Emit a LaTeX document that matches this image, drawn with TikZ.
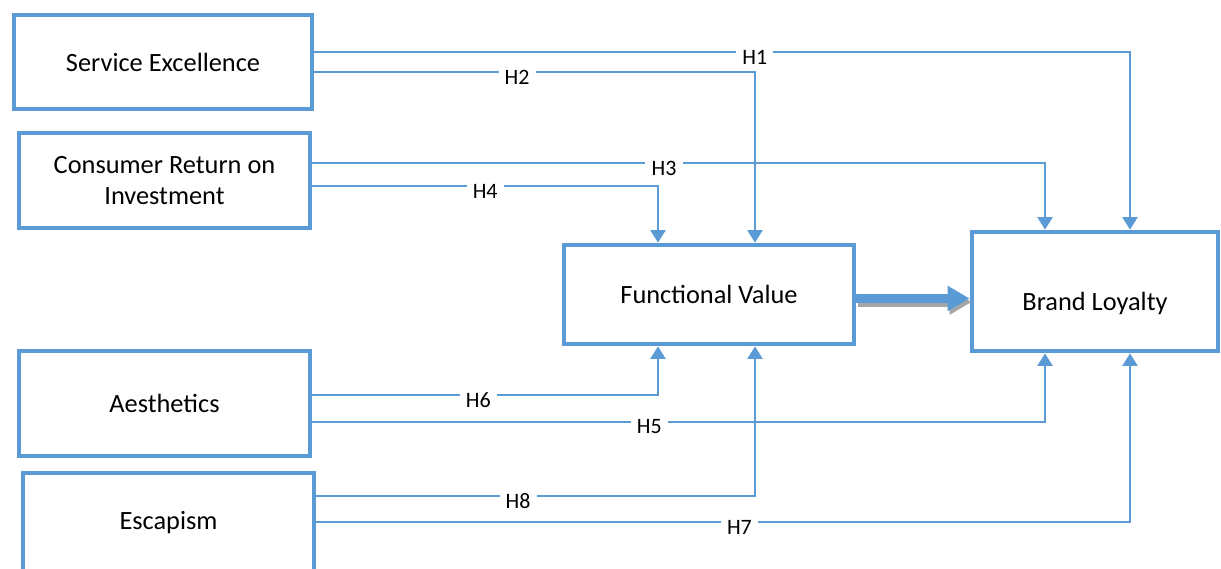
\documentclass[tikz,border=0pt]{standalone}
\usepackage{fontspec}
\setmainfont{Carlito}
\usetikzlibrary{arrows.meta,calc}
\definecolor{officeblue}{RGB}{91,155,213}

\begin{document}
\begin{tikzpicture}[
  box/.style={draw=officeblue,line width=2.7pt,fill=white,align=center,
    font=\fontsize{15}{18}\selectfont},
  link/.style={draw=officeblue,line width=1.2pt,-{Triangle[width=0.3cm,length=0.25cm]}},
  hyp/.style={fill=white,inner xsep=3.5pt,inner ysep=1pt,yshift=-0.1cm,
    font=\fontsize{12.5}{14}\selectfont},
  bigarrow/.style={line width=0.18cm,-{Triangle[width=0.48cm,length=0.44cm]}}
  ]
    \useasboundingbox (0,0) rectangle (24.42,-11.36);

    \node[box,minimum width=5.96cm,minimum height=1.88cm] (se) at (3.26,-1.24) {Service Excellence};
    \node[box,minimum width=5.82cm,minimum height=1.90cm] (croi) at (3.29,-3.61) {Consumer Return on\\Investment};
    \node[box,minimum width=5.82cm,minimum height=2.10cm] (ae) at (3.29,-8.07) {Aesthetics};
    \node[box,minimum width=5.82cm,minimum height=2.00cm] (es) at (3.37,-10.46) {Escapism};
    \node[box,minimum width=5.80cm,minimum height=1.98cm] (fv) at (14.18,-5.89) {Functional Value};
    \node[box,minimum width=4.92cm,minimum height=2.38cm,text height=0.84cm,text depth=0.1cm]
      (bl) at (21.90,-5.83) {Brand Loyalty};

    % fv -> bl, with its shadow
    \draw[bigarrow,gray!70,transform canvas={xshift=0.04cm,yshift=-0.07cm}]
      ([yshift=-0.08cm]fv.east) -- ([yshift=-0.08cm]fv.east -| bl.west);
    \draw[bigarrow,officeblue] ([yshift=-0.08cm]fv.east) -- ([yshift=-0.08cm]fv.east -| bl.west);

    % hypotheses into brand loyalty / functional value
    \draw[link] ($(se.east)+(0,0.20)$) -| node[hyp,pos=0.27] {H1} ($(bl.north)+(0.70,0)$);
    \draw[link] ($(se.east)+(0,-0.20)$) -| node[hyp,pos=0.23] {H2} ($(fv.north)+(0.92,0)$);
    \draw[link] ($(croi.east)+(0,0.35)$) -| node[hyp,pos=0.24] {H3} ($(bl.north)+(-1.00,0)$);
    \draw[link] ($(croi.east)+(0,-0.11)$) -| node[hyp,pos=0.25] {H4} ($(fv.north)+(-1.02,0)$);
    \draw[link] ($(ae.east)+(0,0.17)$) -| node[hyp,pos=0.24] {H6} ($(fv.south)+(-1.02,0)$);
    \draw[link] ($(ae.east)+(0,-0.37)$) -| node[hyp,pos=0.23] {H5} ($(bl.south)+(-1.00,0)$);
    \draw[link] ($(es.east)+(0,0.54)$) -| node[hyp,pos=0.23] {H8} ($(fv.south)+(0.92,0)$);
    \draw[link] ($(es.east)+(0,0.02)$) -| node[hyp,pos=0.26] {H7} ($(bl.south)+(0.70,0)$);
\end{tikzpicture}
\end{document}
